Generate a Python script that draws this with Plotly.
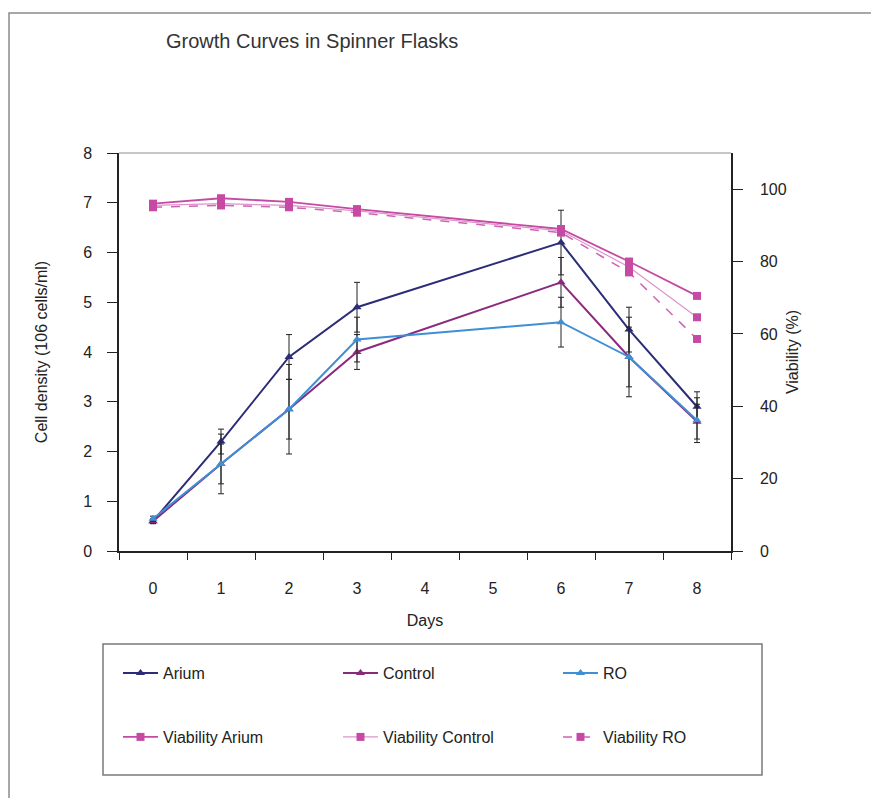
import plotly.graph_objects as go

# ---- data -------------------------------------------------------------
days = [0, 1, 2, 3, 6, 7, 8]
day_labels = ["0", "1", "2", "3", "4", "5", "6", "7", "8"]

arium = [0.6, 2.2, 3.9, 4.9, 6.2, 4.45, 2.9]
control = [0.6, 1.75, 2.85, 4.0, 5.4, 3.9, 2.6]
ro = [0.65, 1.75, 2.85, 4.25, 4.6, 3.9, 2.63]

arium_err = [0.05, 0.25, 0.45, 0.5, 0.65, 0.45, 0.3]
control_err = [0.05, 0.4, 0.6, 0.35, 0.5, 0.6, 0.35]
ro_err = [0.05, 0.6, 0.9, 0.45, 0.5, 0.8, 0.45]

via_arium = [96.0, 97.5, 96.5, 94.5, 89.0, 80.0, 70.5]
via_control = [95.5, 96.0, 95.5, 94.0, 88.5, 78.5, 64.6]
via_ro = [95.0, 95.5, 95.0, 93.5, 88.0, 77.0, 58.6]

left_ticks = [0, 1, 2, 3, 4, 5, 6, 7, 8]
right_ticks = [0, 20, 40, 60, 80, 100]

# ---- layout geometry (pixels) ----------------------------------------
W, H = 871, 798
PL, PR, PT, PB = 119, 731, 153, 551  # plot area edges
PW, PH = PR - PL, PB - PT


def px_x(x):
    return (x - PL) / PW


def px_y(y):
    return (PB - y) / PH


FONT = "Liberation Sans, Arial, sans-serif"
C_ARIUM = "#2c2d78"
C_CONTROL = "#8a2a7c"
C_RO = "#3e8fd4"
C_VIA = "#c64aa3"
C_VIA_CTRL = "#dc94c9"
C_VIA_RO = "#cf63b3"

fig = go.Figure()


def growth(name, y, err, color, legend):
    fig.add_trace(go.Scatter(
        x=days, y=y, name=name, mode="lines+markers",
        line=dict(color=color, width=2),
        marker=dict(symbol="triangle-up", size=8, color=color),
        error_y=dict(type="data", array=err, visible=True,
                     color="#222222", thickness=1, width=3),
        legend=legend,
    ))


def viability(name, y, color, dash, width, legend):
    fig.add_trace(go.Scatter(
        x=days, y=y, name=name, mode="lines+markers", yaxis="y2",
        line=dict(color=color, width=width, dash=dash),
        marker=dict(symbol="square", size=8, color=C_VIA),
        legend=legend,
    ))


# viability drawn first so growth curves sit on top
viability("Viability Arium", via_arium, C_VIA, "solid", 1.8, "legend2")
viability("Viability Control", via_control, C_VIA_CTRL, "solid", 1.2, "legend2")
viability("Viability RO", via_ro, C_VIA_RO, "dash", 1.5, "legend2")
growth("Arium", arium, arium_err, C_ARIUM, "legend")
growth("Control", control, control_err, C_CONTROL, "legend")
growth("RO", ro, ro_err, C_RO, "legend")

legend_common = dict(
    orientation="h", xanchor="left", yanchor="middle",
    entrywidth=170, entrywidthmode="pixels", itemwidth=35,
    bgcolor="rgba(0,0,0,0)", borderwidth=0,
    font=dict(family=FONT, size=16, color="#222222"),
    itemclick=False, itemdoubleclick=False,
    traceorder="normal",
)

fig.update_layout(
    width=W, height=H,
    margin=dict(l=PL, r=W - PR, t=PT, b=H - PB, autoexpand=False),
    paper_bgcolor="white", plot_bgcolor="white",
    font=dict(family=FONT, size=15, color="#222222"),
    title=dict(
        text="Growth Curves in Spinner Flasks",
        x=166 / W, xanchor="left", xref="container",
        y=1 - 41 / H, yanchor="middle", yref="container",
        font=dict(family=FONT, size=20, color="#333333"),
    ),
    legend=dict(x=px_x(118), y=px_y(673), **legend_common),
    legend2=dict(x=px_x(118), y=px_y(737), **legend_common),
    xaxis=dict(
        range=[-0.5, 8.5], tickmode="array", tickvals=list(range(9)),
        ticktext=day_labels, ticks="", showgrid=False, zeroline=False,
        showline=True, linecolor="#222222", linewidth=1.5,
        ticklabelstandoff=22,
        tickfont=dict(family=FONT, size=16, color="#222222"),
        minor=dict(tickmode="array",
                   tickvals=[i - 0.5 for i in range(10)],
                   ticks="outside", ticklen=7, tickcolor="#222222",
                   tickwidth=1.2, showgrid=False),
        title=dict(text="Days", standoff=19,
                   font=dict(family=FONT, size=16, color="#222222")),
    ),
    yaxis=dict(
        range=[0, 8], tickmode="array", tickvals=left_ticks,
        ticks="outside", ticklen=10, tickcolor="#222222", tickwidth=1.2,
        showgrid=False, zeroline=False,
        showline=True, linecolor="#222222", linewidth=1.5,
        ticklabelstandoff=12,
        tickfont=dict(family=FONT, size=16, color="#222222"),
        title=dict(text="Cell density (106 cells/ml)", standoff=32,
                   font=dict(family=FONT, size=16, color="#222222")),
    ),
    yaxis2=dict(
        range=[0, 110], overlaying="y", side="right", anchor="x",
        tickmode="array", tickvals=right_ticks,
        ticks="outside", ticklen=10, tickcolor="#222222", tickwidth=1.2,
        showgrid=False, zeroline=False,
        showline=True, linecolor="#222222", linewidth=1.5,
        ticklabelstandoff=14,
        tickfont=dict(family=FONT, size=16, color="#222222"),
        title=dict(text="Viability (%)", standoff=1,
                   font=dict(family=FONT, size=16, color="#222222")),
    ),
    yaxis3=dict(
        range=[0, 110], overlaying="y", side="right", anchor="x",
        tickmode="array", tickvals=right_ticks, ticks="inside",
        ticklen=9, tickcolor="#222222", tickwidth=1.2,
        showticklabels=False, showgrid=False, zeroline=False, showline=False,
    ),
    shapes=[
        # light frame line along the top of the plot area
        dict(type="line", xref="paper", yref="paper", x0=0, x1=1, y0=1, y1=1,
             line=dict(color="#b5b5b5", width=1.5)),
        # outer chart border
        dict(type="rect", xref="paper", yref="paper",
             x0=px_x(9), x1=px_x(890), y0=px_y(13), y1=px_y(820),
             line=dict(color="#8a8a8a", width=1.5)),
        # legend frame
        dict(type="rect", xref="paper", yref="paper",
             x0=px_x(103), x1=px_x(762), y0=px_y(644), y1=px_y(775),
             line=dict(color="#7a7a7a", width=1.5)),
    ],
    showlegend=True,
)

fig.write_html("out.html")
